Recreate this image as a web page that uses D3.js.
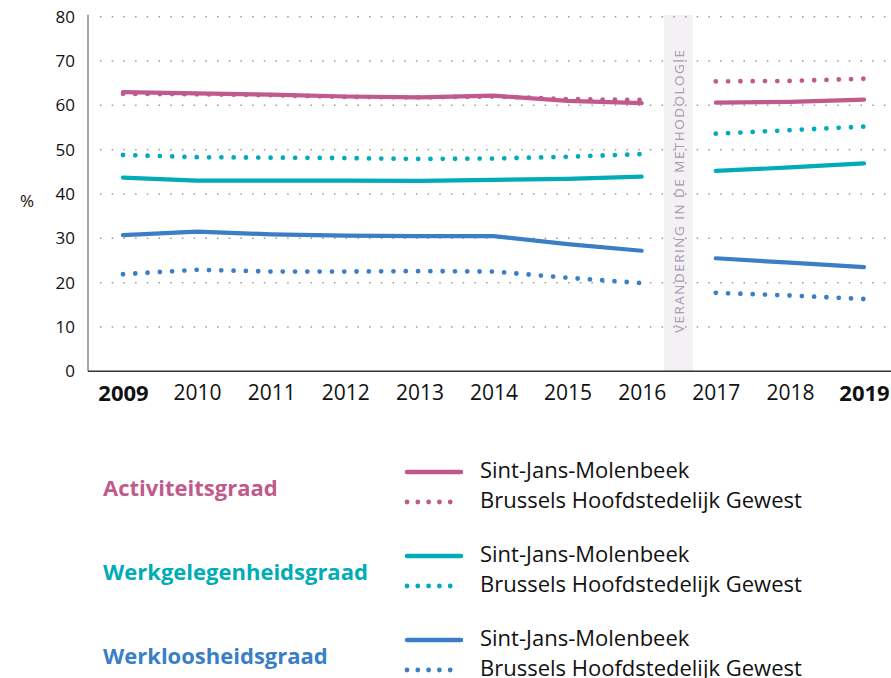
<!DOCTYPE html>
<html><head><meta charset="utf-8">
<script src="https://cdn.jsdelivr.net/npm/d3@7"></script>
<style>
html,body{margin:0;padding:0;background:#fff;}
svg{display:block;font-family:"Open Sans",sans-serif;}
</style></head>
<body>
<svg id="chart" width="891" height="678"></svg>
<script>
const years = [2009, 2010, 2011, 2012, 2013, 2014, 2015, 2016, 2017, 2018, 2019];
const boldYears = [2009, 2019];
const yTicks = [0, 10, 20, 30, 40, 50, 60, 70, 80];

const actSJM   = [63.0, 62.7, 62.4, 62.0, 61.8, 62.2, 61.0, 60.5, 60.6, 60.8, 61.3];
const actBHG   = [62.6, 62.5, 62.3, 61.9, 61.8, 62.0, 61.4, 61.2, 65.4, 65.5, 66.0];
const workSJM  = [43.7, 43.0, 43.0, 43.0, 42.95, 43.2, 43.4, 43.9, 45.2, 46.0, 46.9];
const workBHG  = [48.8, 48.3, 48.2, 48.1, 47.9, 48.0, 48.4, 49.0, 53.6, 54.4, 55.2];
const unempSJM = [30.7, 31.5, 30.9, 30.6, 30.5, 30.5, 28.7, 27.2, 25.5, 24.5, 23.5];
const unempBHG = [21.9, 22.9, 22.5, 22.5, 22.6, 22.5, 21.1, 19.9, 17.7, 17.1, 16.3];

const groups = ["Activiteitsgraad", "Werkgelegenheidsgraad", "Werkloosheidsgraad"];
const groupColors = ["#c05a8d", "#00acb8", "#3a7fc5"];
const seriesNames = ["Sint-Jans-Molenbeek", "Brussels Hoofdstedelijk Gewest"];
const bandLabel = "VERANDERING IN DE METHODOLOGIE";
const yLabel = "%";

const series = [
  {g:0, dotted:true,  v:actBHG},
  {g:0, dotted:false, v:actSJM},
  {g:1, dotted:true,  v:workBHG},
  {g:1, dotted:false, v:workSJM},
  {g:2, dotted:true,  v:unempBHG},
  {g:2, dotted:false, v:unempSJM}
];

const svg = d3.select("#chart");
const x = d3.scalePoint().domain(years).range([123, 864]);
const y = d3.scaleLinear().domain([0, 80]).range([371.3, 16.7]);

// methodology band
svg.append("rect").attr("x", 664).attr("y", 15).attr("width", 29).attr("height", 356)
  .attr("fill", "#f3f1f3");
svg.append("text")
  .attr("transform", "translate(683.5,191.5) rotate(-90)")
  .attr("text-anchor", "middle")
  .attr("font-size", 13.5).attr("fill", "#a59cb0")
  .attr("textLength", 283).attr("lengthAdjust", "spacing")
  .text(bandLabel);

// grid
svg.append("g").selectAll("line").data(yTicks.filter(d => d > 0)).join("line")
  .attr("x1", 100).attr("x2", 886)
  .attr("y1", d => y(d)).attr("y2", d => y(d))
  .attr("stroke", "#9a9a9a").attr("stroke-width", 1.5)
  .attr("stroke-dasharray", "1.5 10.2");

// y axis
const yAxis = svg.append("g").attr("transform", "translate(88,0)")
  .call(d3.axisLeft(y).tickValues(yTicks).tickSize(0).tickPadding(13));
yAxis.select(".domain").attr("stroke", "#888").attr("stroke-width", 1.5)
  .attr("d", `M0,${y(80)-2}V${y(0)}`);
yAxis.selectAll("text").attr("font-size", 17).attr("fill", "#111")
  .attr("font-family", "'Open Sans',sans-serif");

svg.append("text").attr("x", 27).attr("y", 207).attr("text-anchor", "middle")
  .attr("font-size", 17).attr("fill", "#111").text(yLabel);

// x axis
const xAxis = svg.append("g").attr("transform", `translate(0,${y(0)})`)
  .call(d3.axisBottom(x).tickSize(0).tickPadding(14).tickFormat(d3.format("d")));
xAxis.select(".domain").attr("stroke", "#333").attr("stroke-width", 1.5)
  .attr("d", `M88,0H891`);
xAxis.selectAll("text").attr("fill", "#111")
  .attr("font-family", "'Open Sans',sans-serif")
  .attr("font-size", d => boldYears.includes(d) ? 22 : 21)
  .attr("font-weight", d => boldYears.includes(d) ? 700 : 400);

// lines
const line = d3.line().x(d => x(d.year)).y(d => y(d.value));
series.forEach(s => {
  const pts = years.map((yr, i) => ({year: yr, value: s.v[i]}));
  const segs = [pts.filter(p => p.year <= 2016), pts.filter(p => p.year >= 2017)];
  segs.forEach(seg => {
    svg.append("path").datum(seg).attr("d", line)
      .attr("fill", "none")
      .attr("stroke", groupColors[s.g])
      .attr("stroke-linecap", "round").attr("stroke-linejoin", "round")
      .attr("stroke-width", s.dotted ? 4.8 : 4.2)
      .attr("stroke-dasharray", s.dotted ? "0 12.3" : null);
  });
});

// legend
const legTop = [472, 556, 640];
groups.forEach((g, i) => {
  const c = groupColors[i];
  svg.append("text").attr("x", 103).attr("y", legTop[i] + 24)
    .attr("font-size", 22).attr("font-weight", 700).attr("fill", c)
    .text(g);
  [0, 1].forEach(k => {
    const ly = legTop[i] + k * 30;
    svg.append("line").attr("x1", 407).attr("x2", 461).attr("y1", ly).attr("y2", ly)
      .attr("stroke", c).attr("stroke-linecap", "round")
      .attr("stroke-width", k ? 4.8 : 4.5)
      .attr("stroke-dasharray", k ? "0 10.8" : null);
    svg.append("text").attr("x", 480).attr("y", ly + 6)
      .attr("font-size", 22).attr("fill", "#111")
      .text(seriesNames[k]);
  });
});
</script>
</body></html>
